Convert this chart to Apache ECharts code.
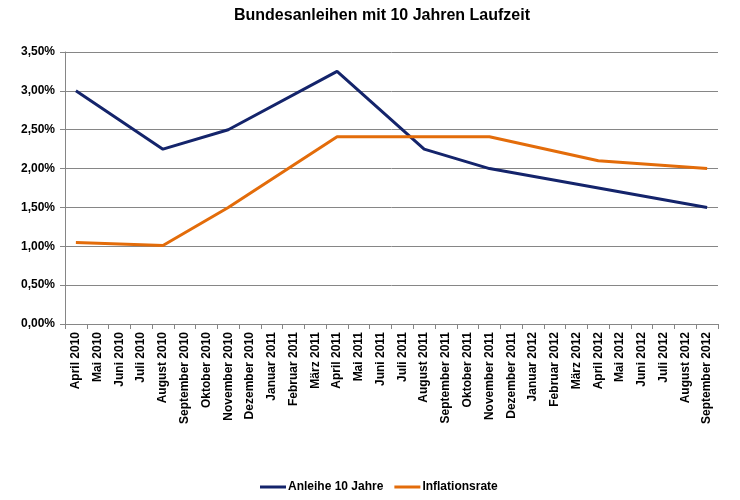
<!DOCTYPE html>
<html><head><meta charset="utf-8">
<script src="https://cdn.jsdelivr.net/npm/echarts@6/dist/echarts.min.js"></script>
<style>html,body{margin:0;padding:0;background:#fff}#c{width:740px;height:500px}</style>
</head><body><div id="c"></div>
<script>
const categories = ["April 2010","Mai 2010","Juni 2010","Juli 2010","August 2010","September 2010","Oktober 2010","November 2010","Dezember 2010","Januar 2011","Februar 2011","März 2011","April 2011","Mai 2011","Juni 2011","Juli 2011","August 2011","September 2011","Oktober 2011","November 2011","Dezember 2011","Januar 2012","Februar 2012","März 2012","April 2012","Mai 2012","Juni 2012","Juli 2012","August 2012","September 2012"];
// values only at the months visible as vertices; gaps are connected
const anleihe = [3.00,null,null,null,2.25,null,null,2.50,null,null,null,null,3.25,null,null,null,2.25,null,null,2.00,null,null,null,null,null,null,null,null,null,1.50];
const inflation = [1.05,null,null,null,1.01,null,null,1.50,null,null,null,null,2.41,null,null,null,2.41,null,null,2.41,null,null,null,null,2.10,null,null,null,null,2.00];
const yTicks = [0,0.5,1,1.5,2,2.5,3,3.5];

const font = "'Liberation Sans', Arial, sans-serif";
const chart = echarts.init(document.getElementById('c'));
chart.setOption({
  animation:false,
  title:{text:'Bundesanleihen mit 10 Jahren Laufzeit',left:377,textAlign:'center',top:3,
    textStyle:{fontFamily:font,fontSize:16,fontWeight:'bold',color:'#000'}},
  grid:{left:65,right:22,top:52,bottom:176},
  legend:{bottom:2,left:255,itemWidth:26,itemHeight:3,itemGap:11,icon:'rect',
    textStyle:{fontFamily:font,fontSize:12,fontWeight:'bold',color:'#000',padding:[0,0,0,-3]},
    data:['Anleihe 10 Jahre','Inflationsrate']},
  xAxis:{type:'category',data:categories,boundaryGap:true,
    axisLine:{lineStyle:{color:'#868686'}},
    axisTick:{show:true,interval:0,length:5,lineStyle:{color:'#868686'}},
    axisLabel:{interval:0,rotate:90,fontFamily:font,fontSize:12,fontWeight:'bold',color:'#000',margin:8}},
  yAxis:{type:'value',min:0,max:3.5,interval:0.5,
    axisLine:{show:true,lineStyle:{color:'#868686'}},
    axisTick:{show:true,length:5,lineStyle:{color:'#868686'}},
    splitLine:{lineStyle:{color:'#868686'}},
    axisLabel:{fontFamily:font,fontSize:12,fontWeight:'bold',color:'#000',margin:10,
      formatter:v=>v.toFixed(2).replace('.',',')+'%'}},
  series:[
    {name:'Anleihe 10 Jahre',type:'line',data:anleihe,connectNulls:true,showSymbol:false,
      lineStyle:{color:'#14246b',width:3},itemStyle:{color:'#14246b'}},
    {name:'Inflationsrate',type:'line',data:inflation,connectNulls:true,showSymbol:false,
      lineStyle:{color:'#e36c0a',width:3},itemStyle:{color:'#e36c0a'}}
  ]
});
</script></body></html>
